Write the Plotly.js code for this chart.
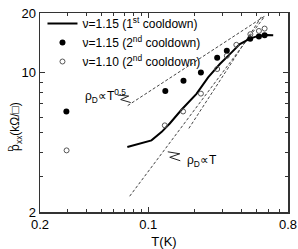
<!DOCTYPE html>
<html><head><meta charset="utf-8">
<script src="https://cdn.plot.ly/plotly-3.0.1.min.js"></script>
<style>html,body{margin:0;padding:0;background:#fff}</style>
</head><body><div id="chart" style="width:298px;height:249px"></div>
<script>
// solid curve: nu=1.15 (1st cooldown)
const curveT = [0.0733, 0.0881, 0.105, 0.1218, 0.1378, 0.164, 0.1856, 0.205, 0.2438, 0.2903, 0.337, 0.391, 0.454, 0.514, 0.582, 0.642];
const curveR = [4.24, 4.40, 4.58, 5.04, 5.57, 6.53, 7.26, 7.85, 9.50, 11.08, 12.43, 13.95, 14.88, 15.35, 15.52, 15.47];
// filled: nu=1.15 (2nd cooldown)
const filledT = [0.0296, 0.129, 0.169, 0.219, 0.279, 0.322, 0.456, 0.519, 0.565];
const filledR = [6.40, 8.12, 9.14, 10.06, 11.91, 12.91, 14.83, 15.22, 15.47];
// open: nu=1.10 (2nd cooldown)
const openT = [0.0297, 0.128, 0.168, 0.219, 0.279, 0.322, 0.371, 0.457, 0.519, 0.565];
const openR = [4.08, 5.45, 6.40, 7.87, 10.46, 12.19, 13.84, 15.65, 16.25, 16.70];
// guide lines
const sqrtLineT = [0.0737, 0.5676];
const sqrtLineR = [6.85, 19.32];
const linLineAT = [0.0759, 0.5676];
const linLineAR = [2.40, 19.32];
const linLineBT = [0.183, 0.543];
const linLineBR = [5.26, 19.32];
// axis ticks
const xTickVals = [0.02, 0.1, 0.8];
const xTickText = ["0.2", "0.1", "0.8"];
const xMinor = [0.03,0.04,0.05,0.06,0.07,0.08,0.09,0.2,0.3,0.4,0.5,0.6,0.7];
const yTickVals = [2, 10, 20];
const yTickText = ["2", "10", "20"];
const yMinor = [3,4,5,6,7,8,9];

const FONT = 'Arial, "Liberation Sans", sans-serif';
const dashStyle = {color:'#444', width:1, dash:'3px,2px'};

const traces = [
  {x: sqrtLineT, y: sqrtLineR, mode:'lines', line: dashStyle, showlegend:false, hoverinfo:'skip'},
  {x: linLineAT, y: linLineAR, mode:'lines', line: dashStyle, showlegend:false, hoverinfo:'skip'},
  {x: linLineBT, y: linLineBR, mode:'lines', line: dashStyle, showlegend:false, hoverinfo:'skip'},
  {x: curveT, y: curveR, mode:'lines', line:{color:'#000', width:2}, name:'ν=1.15 (1<sup>st</sup> cooldown)'},
  {x: filledT, y: filledR, mode:'markers', marker:{color:'#000', size:6, symbol:'circle'}, name:'ν=1.15 (2<sup>nd</sup> cooldown)'},
  {x: openT, y: openR, mode:'markers', marker:{color:'#555', size:5, symbol:'circle-open', line:{color:'#555', width:1}}, name:'ν=1.10 (2<sup>nd</sup> cooldown)'}
];

function px(x){return (x-40.5)/247.5;}
function py(y){return (212-y)/200;}
function pathFrom(pts){return pts.map((p,i)=>(i?'L':'M')+px(p[0]).toFixed(4)+','+py(p[1]).toFixed(4)).join(' ');}

const layout = {
  width:298, height:249,
  margin:{l:40, r:10, t:12, b:37},
  paper_bgcolor:'#fff', plot_bgcolor:'#fff',
  font:{family:FONT, size:12, color:'#000'},
  showlegend:true,
  legend:{x:0.01, y:1.015, xanchor:'left', yanchor:'top', bgcolor:'rgba(0,0,0,0)', font:{size:12}, tracegroupgap:0, itemwidth:30},
  xaxis:{type:'log', range:[Math.log10(0.02), Math.log10(0.8)], tickmode:'array', tickvals:xTickVals, ticktext:xTickText,
    ticks:'inside', ticklen:5, tickwidth:1, tickcolor:'#333', showline:true, linecolor:'#333', linewidth:1.5, mirror:'allticks',
    showgrid:false, zeroline:false, tickfont:{size:13},
    minor:{tickmode:'array', tickvals:xMinor, ticks:'inside', ticklen:3, tickcolor:'#333', showgrid:false},
    title:{text:'T(K)', font:{size:13}, standoff:8}},
  yaxis:{type:'log', range:[Math.log10(2), Math.log10(20)], tickmode:'array', tickvals:yTickVals, ticktext:yTickText,
    ticks:'inside', ticklen:5, tickwidth:1, tickcolor:'#333', showline:true, linecolor:'#333', linewidth:1.5, mirror:'allticks',
    showgrid:false, zeroline:false, tickfont:{size:13},
    minor:{tickmode:'array', tickvals:yMinor, ticks:'inside', ticklen:3, tickcolor:'#333', showgrid:false}},
  annotations:[
    {xref:'paper', yref:'paper', x:px(83), y:py(95), xanchor:'left', yanchor:'middle', showarrow:false,
     text:'ρ<sub>D</sub>∝T<sup>0.5</sup>', font:{size:12}},
    {xref:'paper', yref:'paper', x:px(185), y:py(161), xanchor:'left', yanchor:'middle', showarrow:false,
     text:'ρ<sub>D</sub>∝T', font:{size:12}},
    {xref:'paper', yref:'paper', x:px(17), y:py(126), xanchor:'center', yanchor:'middle', showarrow:false, textangle:-90,
     text:'ρ<sub>xx</sub>(kΩ/□)', font:{size:12}},
    {xref:'paper', yref:'paper', x:px(11), y:py(148), xanchor:'center', yanchor:'middle', showarrow:false, textangle:-90,
     text:'D', font:{size:8}}
  ],
  shapes:[
    {type:'path', xref:'paper', yref:'paper', path:pathFrom([[118,94.5],[129,95.5],[121,99],[131,102]]), line:{color:'#222', width:1}},
    {type:'path', xref:'paper', yref:'paper', path:pathFrom([[168,151.5],[180,153.5],[170,157],[180.5,160.5]]), line:{color:'#222', width:1}}
  ]
};
Plotly.newPlot('chart', traces, layout, {staticPlot:true, displayModeBar:false});
</script></body></html>
